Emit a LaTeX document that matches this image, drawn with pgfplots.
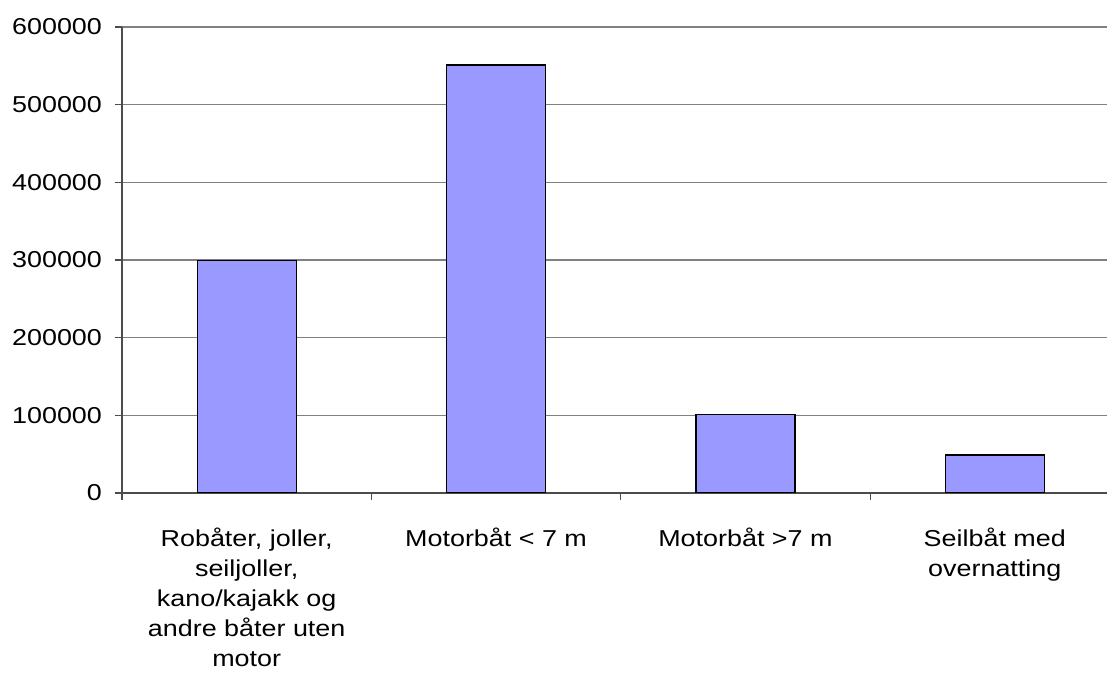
\documentclass[border=0pt]{standalone}
\usepackage{pgfplots}
\pgfplotsset{compat=1.18}
\usepackage{fontspec}
\setmainfont{Liberation Sans}
\definecolor{barblue}{HTML}{9999FF}
\definecolor{gridgray}{HTML}{808080}
\newcommand{\lab}[1]{\scalebox{1.17}[1]{\begin{tabular}{@{}c@{}}#1\end{tabular}}}
\begin{document}
\begin{tikzpicture}
\begin{axis}[
  name=ax,
  scale only axis,
  width=492.5pt, height=233pt,
  xmin=-0.5, xmax=3.45,
  ymin=0, ymax=600000,
  axis lines=left,
  axis line style={-, draw=black!70, line width=0.7pt},
  ytick={0,100000,200000,300000,400000,500000,600000},
  scaled y ticks=false,
  yticklabel={\scalebox{1.17}[1]{\pgfmathprintnumber[fixed,1000 sep={}]{\tick}}},
  yticklabel style={font=\fontsize{11.5pt}{15pt}\selectfont, xshift=-3pt},
  /pgf/number format/assume math mode=true,
  ymajorgrids,
  grid style={draw=gridgray, line width=0.6pt},
  tick align=outside,
  major tick length=3.5pt,
  ytick style={draw=black!70, line width=0.6pt},
  xtick={0,1,2,3},
  xticklabels={{\lab{Robåter, joller,\\seiljoller,\\kano/kajakk og\\andre båter uten\\motor}},{\lab{Motorbåt < 7 m}},{\lab{Motorbåt >7 m}},{\lab{Seilbåt med\\overnatting}}},
  xtick style={draw=none},
  xticklabel style={font=\fontsize{11.5pt}{15pt}\selectfont, yshift=-9pt},
  extra x ticks={-0.5,0.5,1.5,2.5},
  extra x tick labels={},
  extra x tick style={xtick style={draw=black!70, line width=0.6pt}, xmajorgrids=false},
  ybar,
  bar width=49.5pt,
]
\addplot[fill=barblue, draw=black, line width=0.6pt] coordinates {(0,299000) (1,551000) (2,101000) (3,49000)};
\end{axis}
\pgfresetboundingbox
\path[use as bounding box] ([xshift=-61pt,yshift=-92pt]ax.south west) rectangle ([yshift=13.5pt]ax.north east);
\end{tikzpicture}
\end{document}
